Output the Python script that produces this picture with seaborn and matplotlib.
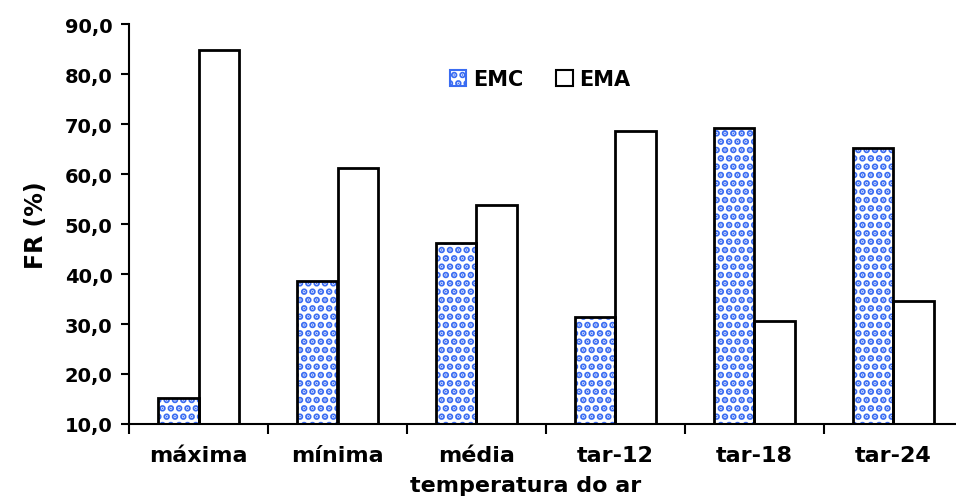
import matplotlib
matplotlib.use("Agg")
import matplotlib.pyplot as plt
from matplotlib.patches import Rectangle, Patch
from matplotlib.ticker import FuncFormatter, FixedLocator
import seaborn as sns
import pandas as pd

categories = ['máxima', 'mínima', 'média', 'tar-12', 'tar-18', 'tar-24']
emc = [15.2, 38.7, 46.3, 31.4, 69.3, 65.3]
ema = [84.9, 61.3, 53.8, 68.7, 30.7, 34.6]
series = ['EMC', 'EMA']
yticks = [10, 20, 30, 40, 50, 60, 70, 80, 90]

df = pd.DataFrame({
    'cat': categories * 2,
    'serie': ['EMC'] * len(categories) + ['EMA'] * len(categories),
    'val': emc + ema,
})

sns.set_theme(style='white')
plt.rcParams['font.family'] = ['DejaVu Sans']
plt.rcParams['font.weight'] = 'bold'
plt.rcParams['hatch.linewidth'] = 3.4
plt.rcParams['text.color'] = 'black'
plt.rcParams['axes.labelcolor'] = 'black'
plt.rcParams['xtick.color'] = 'black'
plt.rcParams['ytick.color'] = 'black'

BLUE = '#3a6cf2'

fig = plt.figure(figsize=(9.56, 5.02), dpi=100)
ax = fig.add_axes([129 / 956, 77 / 502, 834 / 956, 400 / 502])

sns.barplot(data=df, x='cat', y='val', hue='serie', hue_order=series,
            order=categories, width=0.58, palette={'EMC': 'white', 'EMA': 'white'},
            edgecolor='black', linewidth=2, legend=False, ax=ax, gap=0)

emc_bars = ax.containers[0]
for p in emc_bars:
    p.set_facecolor('white')
    p.set_edgecolor(BLUE)
    p.set_linewidth(0)
    p.set_hatch('..')
    ax.add_patch(Rectangle(p.get_xy(), p.get_width(), p.get_height(),
                           fill=False, edgecolor='black', linewidth=2, zorder=p.get_zorder() + 0.1))

ax.set_ylim(10, 90)
ax.set_xlim(-0.5, len(categories) - 0.5)
ax.set_yticks(yticks)
ax.yaxis.set_major_formatter(FuncFormatter(lambda v, _: f"{v:.1f}".replace('.', ',')))

ax.tick_params(axis='x', which='major', length=0, pad=15, labelsize=16)
ax.xaxis.set_minor_locator(FixedLocator([i - 0.5 for i in range(len(categories) + 1)]))
ax.tick_params(axis='x', which='minor', length=7, width=1.5, direction='out', color='black', bottom=True)
ax.tick_params(axis='y', which='major', length=6, width=1.5, direction='out', color='black', left=True, labelsize=14, pad=6)
for lab in ax.get_xticklabels() + ax.get_yticklabels():
    lab.set_fontweight('bold')
    lab.set_color('black')

for s in ['top', 'right']:
    ax.spines[s].set_visible(False)
for s in ['left', 'bottom']:
    ax.spines[s].set_color('black')
    ax.spines[s].set_linewidth(1.5)

ax.set_xlabel('temperatura do ar', fontsize=16, fontweight='bold', color='black')
ax.xaxis.set_label_coords((526 - 129) / 834, -0.128)
ax.set_ylabel('FR (%)', fontsize=17, fontweight='bold', color='black', labelpad=12)

handles = [Patch(facecolor='white', edgecolor='black', hatch='..', linewidth=1.5),
           Patch(facecolor='white', edgecolor='black', linewidth=1.5)]
leg = fig.legend(handles, series, loc='center', bbox_to_anchor=(540 / 956, 1 - 80 / 502),
                 ncol=2, frameon=False, handlelength=0.8, handleheight=0.8,
                 handletextpad=0.3, columnspacing=1.6, prop={'size': 15, 'weight': 'bold'})
leg.get_patches()[0].set_edgecolor(BLUE)
for t in leg.get_texts():
    t.set_color('black')

fig.savefig('out.png', dpi=100)
